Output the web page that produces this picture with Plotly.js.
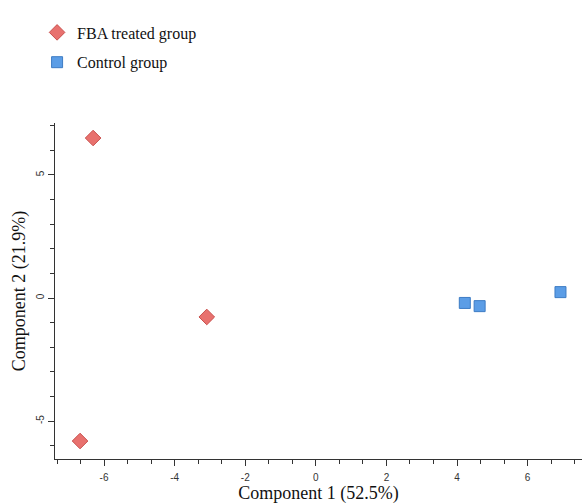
<!DOCTYPE html>
<html>
<head>
<meta charset="utf-8">
<script src="https://cdn.plot.ly/plotly-3.0.1.min.js"></script>
<style>html,body{margin:0;padding:0;background:#fff;}#chart{width:582px;height:504px;}</style>
</head>
<body>
<div id="chart"></div>
<script>
const fbaX = [-6.31, -6.68, -3.09];
const fbaY = [6.50, -5.81, -0.77];
const ctrlX = [4.22, 4.64, 6.93];
const ctrlY = [-0.20, -0.33, 0.24];
const seriesNames = ["FBA treated group", "Control group"];
const xTitle = "Component 1 (52.5%)";
const yTitle = "Component 2 (21.9%)";
const xTickVals = [-6, -4, -2, 0, 2, 4, 6];
const xTickText = ["-6", "-4", "-2", "0", "2", "4", "6"];
const yTickVals = [-5, 0, 5];
const yTickText = ["-5", "0", "5"];

const traces = [
  {
    x: fbaX, y: fbaY, name: seriesNames[0], type: "scatter", mode: "markers",
    legendgroup: "a",
    marker: {symbol: "diamond", size: 12, color: "#e8716e", line: {color: "#c9504d", width: 1}}
  },
  {
    x: ctrlX, y: ctrlY, name: seriesNames[1], type: "scatter", mode: "markers",
    legendgroup: "b",
    marker: {symbol: "square", size: 11, color: "#5b9de6", line: {color: "#3d7cc4", width: 1}}
  }
];

const axisCommon = {
  showgrid: false, zeroline: false, showline: true, linecolor: "#333", linewidth: 1,
  ticks: "outside", ticklen: 6, tickcolor: "#333", tickwidth: 1,
  tickfont: {family: "Liberation Sans, Arial, sans-serif", size: 10, color: "#333"},
  automargin: false
};

const layout = {
  width: 582, height: 504,
  margin: {l: 55, r: 0, t: 123, b: 45},
  paper_bgcolor: "#fff", plot_bgcolor: "#fff",
  showlegend: true,
  legend: {
    x: -0.034, y: 1.32, xanchor: "left", yanchor: "top",
    traceorder: "grouped", tracegroupgap: 6,
    font: {family: "Liberation Serif, Times New Roman, serif", size: 16, color: "#111"},
    bgcolor: "rgba(0,0,0,0)"
  },
  xaxis: Object.assign({}, axisCommon, {
    range: [-7.39, 7.54], tickmode: "array", tickvals: xTickVals, ticktext: xTickText,
    ticklabelstandoff: 3,
    minor: {tickmode: "linear", dtick: 2/3, tick0: 0, ticks: "outside", ticklen: 4, tickcolor: "#333"},
    title: {text: xTitle, standoff: 7, font: {family: "Liberation Serif, Times New Roman, serif", size: 18, color: "#111"}}
  }),
  yaxis: Object.assign({}, axisCommon, {
    range: [-6.54, 7.11], tickmode: "array", tickvals: yTickVals, ticktext: yTickText, tickangle: -90,
    minor: {tickmode: "linear", dtick: 1, tick0: 0, ticks: "outside", ticklen: 4, tickcolor: "#333"},
    title: {text: yTitle, standoff: 4, font: {family: "Liberation Serif, Times New Roman, serif", size: 18, color: "#111"}}
  })
};

Plotly.newPlot("chart", traces, layout, {displayModeBar: false, staticPlot: true});
</script>
</body>
</html>
